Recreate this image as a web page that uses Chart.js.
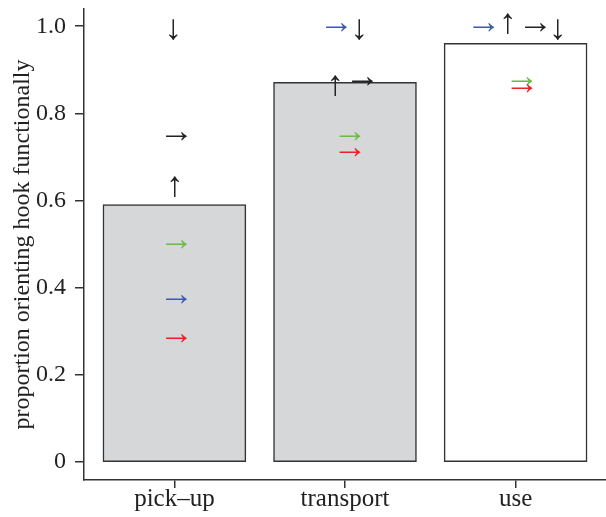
<!DOCTYPE html>
<html>
<head>
<meta charset="utf-8">
<script src="https://cdn.jsdelivr.net/npm/chart.js@4"></script>
<style>
  html, body { margin: 0; padding: 0; background: #ffffff; }
  #wrap { width: 606px; height: 517px; }
</style>
</head>
<body>
<div id="wrap"><canvas id="c" width="606" height="517"></canvas></div>
<script>
// ---- data ----
const categories = ['pick\u2013up', 'transport', 'use'];
const proportions = [0.59, 0.87, 0.96];
const barFills = ['#d6d7d9', '#d6d7d9', '#ffffff'];
const yTicks = [0, 0.2, 0.4, 0.6, 0.8, 1.0];
const yTitle = 'proportion orienting hook functionally';

// arrow marks: category index, offset within category (category units), value, glyph, colour
const arrowCategory = [0, 0, 0, 0, 0, 0,   1, 1, 1, 1, 1, 1,   2, 2, 2, 2, 2, 2];
const arrowOffset   = [-0.008, 0.012, 0, 0.012, 0.012, 0.012,
                       -0.05, 0.082, -0.058, 0.102, 0.029, 0.029,
                       -0.187, -0.047, 0.117, 0.245, 0.038, 0.038];
const arrowValue    = [0.991, 0.748, 0.631, 0.498, 0.372, 0.284,
                       0.998, 0.991, 0.862, 0.872, 0.748, 0.711,
                       0.998, 1.005, 0.998, 0.991, 0.872, 0.856];
const arrowGlyph    = ['\u2193', '\u2192', '\u2191', '\u2192', '\u2192', '\u2192',
                       '\u2192', '\u2193', '\u2191', '\u2192', '\u2192', '\u2192',
                       '\u2192', '\u2191', '\u2192', '\u2193', '\u2192', '\u2192'];
const arrowColour   = ['#222222', '#222222', '#222222', '#6cbb45', '#3b5bab', '#ec2227',
                       '#3b5bab', '#222222', '#222222', '#222222', '#6cbb45', '#ec2227',
                       '#3b5bab', '#222222', '#222222', '#222222', '#6cbb45', '#ec2227'];

const FONT = '"Liberation Serif", "Times New Roman", serif';
const INK = '#222222';
const LINE = '#333333';

const arrowPlugin = {
  id: 'arrowMarks',
  afterDatasetsDraw(chart) {
    const ctx = chart.ctx;
    const xs = chart.scales.x, ys = chart.scales.y;
    ctx.save();
    ctx.font = '35px ' + FONT;
    ctx.textAlign = 'center';
    ctx.textBaseline = 'alphabetic';
    for (let i = 0; i < arrowGlyph.length; i++) {
      const px = xs.getPixelForValue(arrowCategory[i] + arrowOffset[i]);
      const py = ys.getPixelForValue(arrowValue[i]);
      const m = ctx.measureText(arrowGlyph[i]);
      const shift = (m.actualBoundingBoxAscent - m.actualBoundingBoxDescent) / 2;
      const hshift = (m.actualBoundingBoxLeft - m.actualBoundingBoxRight) / 2;
      ctx.fillStyle = arrowColour[i];
      ctx.fillText(arrowGlyph[i], px + hshift, py + shift);
    }
    ctx.restore();
  }
};

new Chart(document.getElementById('c'), {
  type: 'bar',
  data: {
    datasets: [{
      data: categories.map((c, i) => ({ x: i, y: proportions[i] })),
      backgroundColor: barFills,
      borderColor: LINE,
      borderWidth: 1.5,
      borderSkipped: false,
      inflateAmount: 0.75,
      barPercentage: 0.833,
      categoryPercentage: 1.0
    }]
  },
  options: {
    responsive: false,
    animation: false,
    devicePixelRatio: 1,
    layout: { padding: { top: 9, right: 0, bottom: 0, left: 0 } },
    plugins: { legend: { display: false }, tooltip: { enabled: false } },
    scales: {
      x: {
        type: 'linear',
        offset: false,
        min: -0.53,
        max: 2.53,
        afterBuildTicks: (s) => { s.ticks = categories.map((c, i) => ({ value: i })); },
        afterFit: (s) => { s.height = 37; s.paddingLeft = 0; s.paddingRight = 0; },
        ticks: {
          callback: (v) => categories[v],
          font: { family: FONT, size: 25 },
          color: INK,
          padding: -4,
          maxRotation: 0,
          autoSkip: false
        },
        grid: { display: true, offset: false, drawOnChartArea: false, drawTicks: true, tickLength: 8, tickColor: LINE, tickWidth: 1.5, color: LINE, lineWidth: 1.5 },
        border: { display: true, color: LINE, width: 1.5 }
      },
      y: {
        type: 'linear',
        min: -0.0413,
        max: 1.0395,
        afterBuildTicks: (s) => { s.ticks = yTicks.map(v => ({ value: v })); },
        afterFit: (s) => { s.width = 84; s.paddingTop = 0; s.paddingBottom = 0; },
        ticks: {
          callback: (v) => (v === 0 ? '0' : v.toFixed(1)),
          font: { family: FONT, size: 24 },
          color: INK,
          padding: 9
        },
        grid: { display: true, drawOnChartArea: false, drawTicks: true, tickLength: 9, tickColor: LINE, tickWidth: 1.5, color: LINE, lineWidth: 1.5 },
        border: { display: true, color: LINE, width: 1.5 },
        title: {
          display: true,
          text: yTitle,
          font: { family: FONT, size: 24 },
          color: INK,
          padding: { top: 8, bottom: 0 }
        }
      }
    }
  },
  plugins: [arrowPlugin]
});
</script>
</body>
</html>
